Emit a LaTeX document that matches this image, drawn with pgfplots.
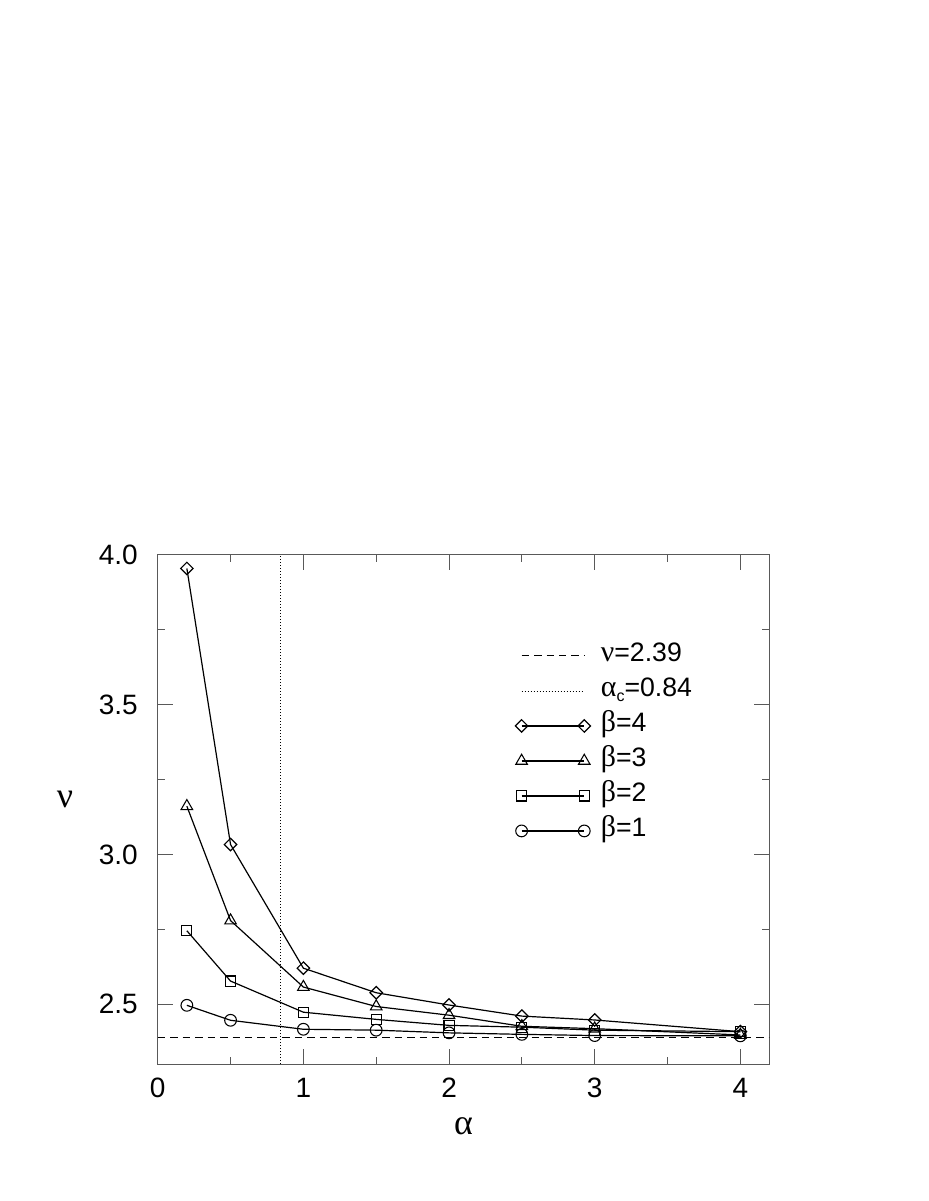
\documentclass[border=0pt]{standalone}
\usepackage{fontspec}
\setmainfont{Liberation Sans}
\newfontfamily\grk[Scale=1.12]{Liberation Serif}
\usepackage{pgfplots}
\pgfplotsset{compat=1.18}

\begin{document}
\begin{tikzpicture}
\useasboundingbox (-118.3pt,-102.75pt) rectangle (577.7pt,798pt);
\begin{axis}[
    at={(0pt,0pt)}, anchor=south west,
    scale only axis,
    width=458.8pt, height=381.75pt,
    xmin=0, xmax=4.2, ymin=2.3, ymax=4.0,
    xtick={0,1,2,3,4}, minor x tick num=1,
    ytick={2.5,3.0,3.5,4.0}, minor y tick num=1,
    tick align=inside,
    major tick length=11.25pt, minor tick length=5.6pt,
    axis line style={black!65, line width=0.75pt},
    every tick/.style={black!65, line width=0.75pt},
    /pgf/number format/assume math mode=true,
    yticklabel style={/pgf/number format/fixed, /pgf/number format/fixed zerofill,
        /pgf/number format/precision=1, inner sep=0pt, anchor=east, xshift=-14.8pt},
    xticklabel style={inner sep=0pt, anchor=north, yshift=-10.5pt},
    ticklabel style={font=\fontsize{21pt}{25pt}\selectfont},
    xlabel={\grk α},
    ylabel={\grk ν},
    label style={font=\fontsize{24pt}{28pt}\selectfont},
    xlabel style={at={(axis description cs:0.5,-0.1218)}, anchor=center, inner sep=0pt},
    ylabel style={rotate=-90, at={(axis description cs:-0.1515,0.52)}, anchor=center, inner sep=0pt},
    legend image code/.code={
        \path (-4.5pt,0pt) (51.5pt,0pt);
        \draw[mark repeat=2, mark phase=1, #1] plot coordinates {(0pt,0pt) (23.5pt,0pt) (47pt,0pt)};
    },
    legend style={draw=none, fill=none, at={(axis description cs:0,1)}, anchor=north west,
        xshift=267.75pt, yshift=-67pt, inner sep=0pt, row sep=9.25pt,
        nodes={inner sep=0pt, text height=13pt, text depth=4pt},
        font=\fontsize{20pt}{24pt}\selectfont},
    legend cell align=left,
    /tikz/every odd column/.append style={column sep=7.5pt},
    every axis plot/.append style={black, line width=0.9pt, mark options={solid, fill=white, line width=0.8pt}},
]
\addlegendimage{line width=0.75pt, dash pattern=on 5.6pt off 3.75pt}
\addlegendentry{{\grk ν}=2.39}
\addlegendimage{line width=0.6pt, dash pattern=on 0.75pt off 1.5pt}
\addlegendentry{{\grk α}\raisebox{-0.35ex}{\fontsize{12pt}{12pt}\selectfont c}=0.84}

\addplot[forget plot, line width=0.75pt, dash pattern=on 5.6pt off 3.75pt] coordinates {(0,2.39) (4.2,2.39)};
\addplot[forget plot, line width=0.6pt, dash pattern=on 0.75pt off 1.5pt] coordinates {(0.84,2.3) (0.84,4.0)};

\addplot[mark=square, mark size=3.3pt, mark options={rotate=45}] coordinates {
    (0.2,3.955) (0.5,3.033) (1,2.620) (1.5,2.538) (2,2.497) (2.5,2.460) (3,2.447) (4,2.408)
};
\addlegendentry{{\grk β}=4}
\addplot[mark=triangle, mark size=5pt] coordinates {
    (0.2,3.161) (0.5,2.779) (1,2.557) (1.5,2.492) (2,2.463) (2.5,2.426) (3,2.418) (4,2.397)
};
\addlegendentry{{\grk β}=3}
\addplot[mark=square, mark size=3.8pt] coordinates {
    (0.2,2.745) (0.5,2.577) (1,2.473) (1.5,2.449) (2,2.429) (2.5,2.423) (3,2.413) (4,2.408)
};
\addlegendentry{{\grk β}=2}
\addplot[mark=o, mark size=4.4pt] coordinates {
    (0.2,2.496) (0.5,2.446) (1,2.416) (1.5,2.413) (2,2.404) (2.5,2.399) (3,2.395) (4,2.394)
};
\addlegendentry{{\grk β}=1}
\end{axis}
\end{tikzpicture}
\end{document}
